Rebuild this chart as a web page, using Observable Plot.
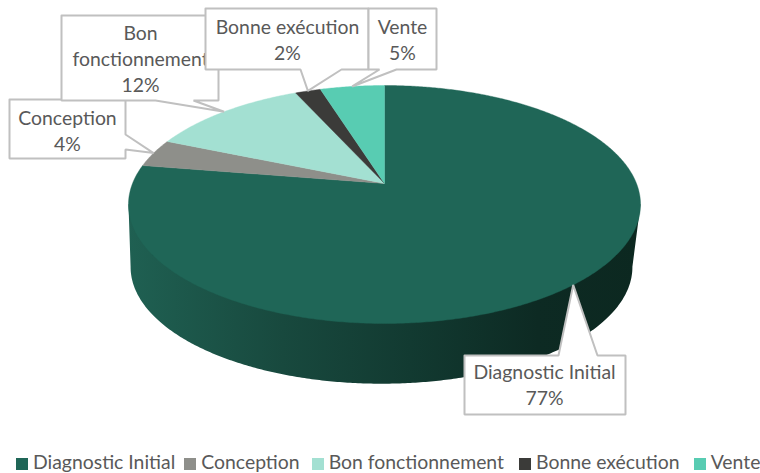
<!DOCTYPE html>
<html><head><meta charset="utf-8">
<script src="https://cdn.jsdelivr.net/npm/d3@7"></script>
<script src="https://cdn.jsdelivr.net/npm/@observablehq/plot@0.6"></script>
<style>
html,body{margin:0;padding:0;background:#fff;overflow:hidden}
#c{width:760px;font-family:Lato,sans-serif}
svg{display:block}
g[aria-label="shadow"]{filter:blur(2.5px)}
#legend{display:flex;align-items:center;height:23px;padding-left:16px;font-size:19.4px;line-height:1;color:#595959;white-space:nowrap}
#legend .i{display:flex;align-items:center}
#legend .s{width:12px;height:12px;margin-right:5px;position:relative;top:2px}
</style></head><body><div id="c"></div>
<script>
const categories = ["Diagnostic Initial","Conception","Bon fonctionnement","Bonne exécution","Vente"];
const values = [77.4,3.8,11.9,1.9,4.8];
const colors = ["#1f6657","#8e8f8a","#a3e0d2","#3b3b39","#58ccb2"];
const labelLines = [["Diagnostic Initial"],["Conception"],["Bon","fonctionnement"],["Bonne exécution"],["Vente"]];
const legendGaps = [9,12,15,14,0];

// layout of callouts: box edges, side holding the pointer, pointer base, text centre, first baseline
const boxEdges = [[464,355,625,414],[9,99,125,158],[61,15,218,100],[205,8,368,69],[368,8,436,69]];
const pointerSide = ["top","right","bottom","bottom","bottom"];
const pointerBase = [[558,597],[134,149],[155,193],[300,341],[379,396]];
const textCentre = [544,67,140,287,402];
const firstBaseline = [378,124,39,33,33];
const lineStep = 26;

// perspective disc
const cx=384, cy=183, persp=0.1765, fy=115.3, fx=252;
const depthX=-3, depthY=63, depthScale=0.98;
const rad = a => a*Math.PI/180;
function onDisc(a){ const u=Math.sin(rad(a)), v=-Math.cos(rad(a)), w=1-persp*v; return [fx*u/w, fy*v/w]; }
const upper = a => { const [x,y]=onDisc(a); return {x:cx+x,y:cy+y}; };
const lower = a => { const [x,y]=onDisc(a); return {x:cx+depthX+depthScale*x,y:cy+depthY+depthScale*y}; };

const total = d3.sum(values);
const arcs = []; let acc=0;
values.forEach((v,i)=>{ arcs.push({i,a0:acc/total*360,a1:(acc+v)/total*360}); acc+=v; });

const slices = arcs.flatMap(({i,a0,a1})=>{
  const pts=[{x:cx,y:cy,c:categories[i]}];
  for(let a=a0;a<a1;a+=0.5) pts.push({...upper(a),c:categories[i]});
  pts.push({...upper(a1),c:categories[i]},{x:cx,y:cy,c:categories[i]});
  return pts;
});

// side wall between the extreme points of both outlines
const angles = d3.range(0,360,0.5);
const aR = d3.greatest(angles,a=>upper(a).x), aL = d3.least(angles,a=>upper(a).x);
const bR = d3.greatest(angles,a=>lower(a).x), bL = d3.least(angles,a=>lower(a).x);
const wall = [upper(aR)];
for(let a=bR;a<=bL;a+=0.5) wall.push(lower(a));
wall.push(upper(aL));

function callout(i){
  const [x0,y0,x1,y1]=boxEdges[i], [p0,p1]=pointerBase[i];
  const t=upper((arcs[i].a0+arcs[i].a1)/2);
  const s=pointerSide[i];
  let pts;
  if(s==="top") pts=[[x0,y0],[p0,y0],[t.x,t.y],[p1,y0],[x1,y0],[x1,y1],[x0,y1],[x0,y0]];
  if(s==="bottom") pts=[[x0,y0],[x1,y0],[x1,y1],[p1,y1],[t.x,t.y],[p0,y1],[x0,y1],[x0,y0]];
  if(s==="right") pts=[[x0,y0],[x1,y0],[x1,p0],[t.x,t.y],[x1,p1],[x1,y1],[x0,y1],[x0,y0]];
  return pts.map(([x,y])=>({x,y}));
}
function labelRows(i){
  const lines=[...labelLines[i],Math.round(values[i])+"%"];
  return lines.map((text,k)=>({x:textCentre[i],y:firstBaseline[i]+k*lineStep,text}));
}
const gradientStops=[[0,"#1f6052"],[0.3,"#18493e"],[0.55,"#123a31"],[0.8,"#0d2a23"],[1,"#0c2820"]];
const defs=()=>{
  const d=d3.create("svg:defs"); const g=d.append("linearGradient").attr("id","wallG");
  gradientStops.forEach(([o,c])=>g.append("stop").attr("offset",o).attr("stop-color",c));
  return d.node();
};

const chart = Plot.plot({
  width:760,height:450,margin:0,
  x:{domain:[0,760],range:[0,760],axis:null},
  y:{domain:[0,450],range:[0,450],axis:null},
  color:{domain:categories,range:colors},
  style:{fontFamily:"Lato,sans-serif",background:"#fff"},
  marks:[
    defs,
    Plot.line(wall,{x:"x",y:"y",fill:"#000",fillOpacity:0.55,stroke:"none",dy:2,ariaLabel:"shadow"}),
    Plot.line(wall,{x:"x",y:"y",fill:"url(#wallG)",stroke:"none"}),
    Plot.line(slices,{x:"x",y:"y",z:"c",fill:"c",stroke:"c",strokeWidth:0.4}),
    ...categories.flatMap((c,i)=>[
      Plot.line(callout(i),{x:"x",y:"y",fill:"#fff",stroke:"#c0c0c0",strokeWidth:2,strokeLinejoin:"miter"}),
      Plot.text(labelRows(i),{x:"x",y:"y",text:"text",fontSize:19.4,fill:"#595959",textAnchor:"middle",lineAnchor:"bottom"})
    ])
  ]
});
const host=document.getElementById("c");
host.appendChild(chart);
const lg=d3.select(host).append("div").attr("id","legend");
categories.forEach((c,i)=>{
  const it=lg.append("div").attr("class","i").style("margin-right",legendGaps[i]+"px");
  it.append("div").attr("class","s").style("background",colors[i]);
  it.append("span").text(c);
});
</script></body></html>
